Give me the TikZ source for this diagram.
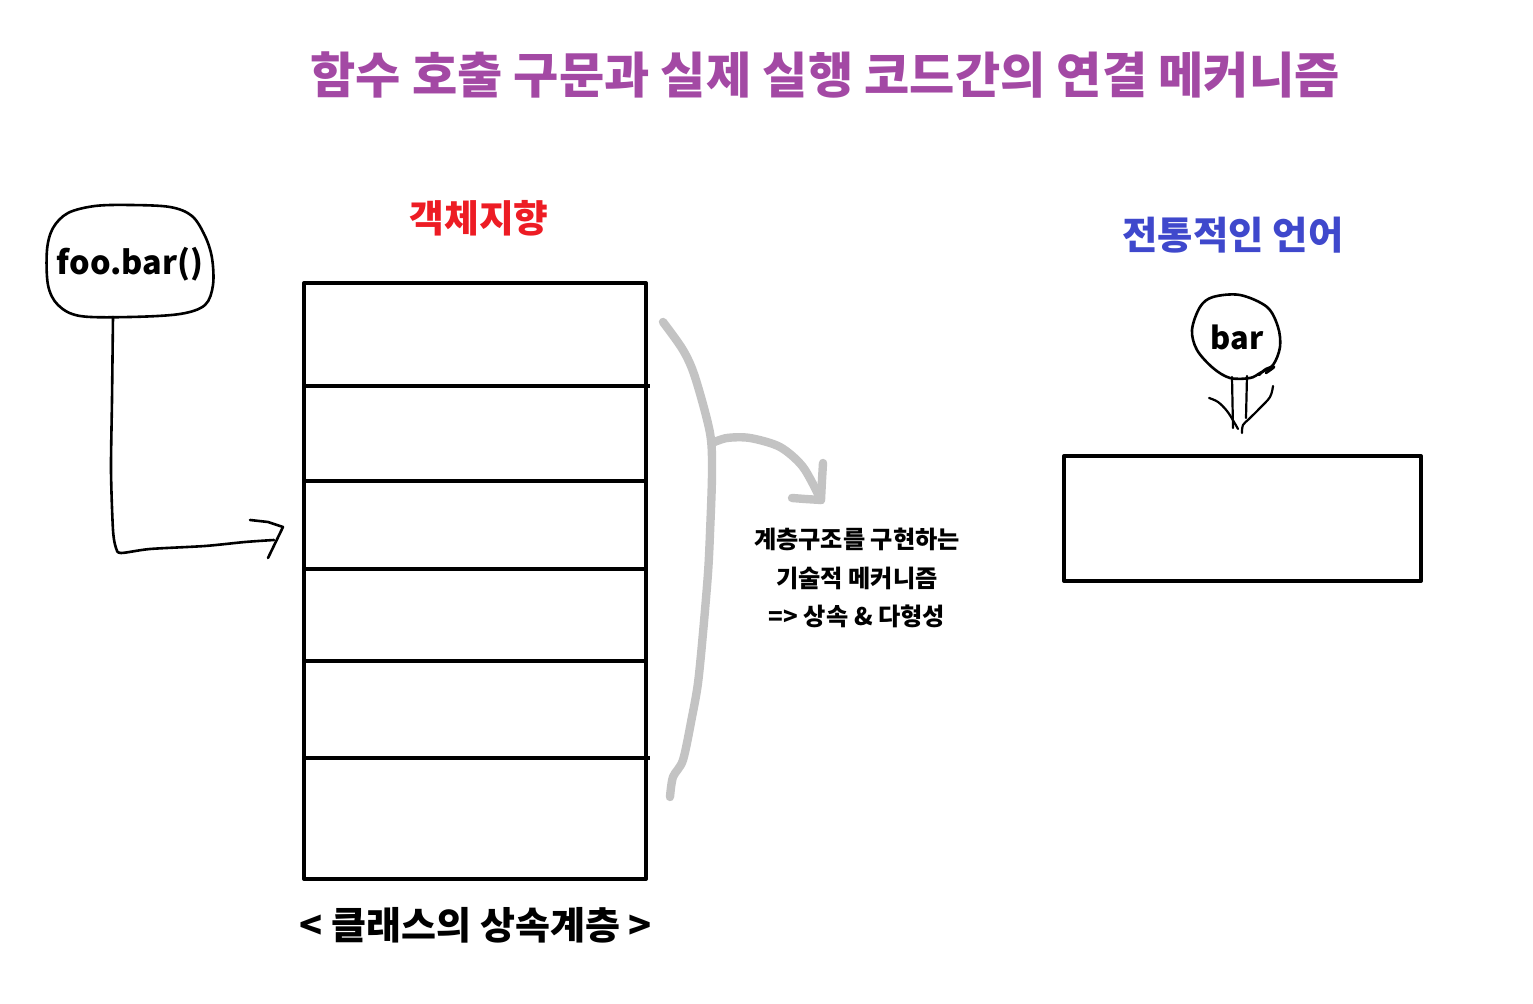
\documentclass[tikz,border=0pt]{standalone}
\usepackage{fontspec}
\setmainfont{Noto Sans CJK KR}
\definecolor{titlepurple}{RGB}{163,73,164}
\definecolor{oored}{RGB}{237,28,36}
\definecolor{tradblue}{RGB}{63,72,204}
\definecolor{arrowgray}{RGB}{195,195,195}
\begin{document}
\begin{tikzpicture}[x=0.5pt,y=-0.5pt,line join=round,line cap=round,
  hand/.style={draw=black,line width=1.3pt},
  boxline/.style={draw=black,line width=2pt,line cap=rect},
  graystroke/.style={draw=arrowgray,line width=4.2pt},
  lbl/.style={inner sep=0pt,font=\bfseries\fontsize{#1}{#1}\selectfont},
]
\useasboundingbox (0,0) rectangle (1533,1004);

% titles
\node[lbl=24.6,text=titlepurple] (title) at (825,75) {함수 호출 구문과 실제 실행 코드간의 연결 메커니즘};
\node[lbl=18.9,text=oored] (oo) at (479,218) {객체지향};
\node[lbl=19.2,text=tradblue] (trad) at (1233,235) {전통적인 언어};
\node[lbl=19] (hier) at (476,925) {< 클래스의 상속계층 >};
\node[inner sep=0pt,align=center,font=\bfseries\fontsize{12.1}{19.25}\selectfont] (mech) at (857,578)
  {계층구조를 구현하는\\기술적 메커니즘\\=> 상속 \& 다형성};

% class hierarchy stack
\draw[boxline] (304,283) rectangle (646,879);
\draw[boxline] (304,386) -- (648,386);
\draw[boxline] (304,481) -- (646,481);
\draw[boxline] (304,569) -- (646,569);
\draw[boxline] (304,661) -- (646,661);
\draw[boxline] (304,758) -- (648,758);
\coordinate (cell3) at (283,527);

% foo.bar() bubble
\draw[hand] plot[smooth cycle,tension=0.55] coordinates {(47,250) (53,228) (68,213) (95,206) (130,205) (170,207) (192,216) (205,236) (212,258) (213,285) (205,305) (180,314) (130,317) (80,316) (58,305) (48,285)};
\node[lbl=16.2] (foo) at (130,264) {foo.bar()};
\coordinate (foostem) at (113,317);

% connector foo -> stack
\draw[hand] plot[smooth,tension=0.45] coordinates {(foostem) (112,400) (111,470) (113,530) (116,548) (121,553) (150,549) (205,546) (245,542) (274,540)};
\draw[hand] (250,520) -- (268,522) -- (cell3) -- (268,558);

% gray brace with arrow
\draw[graystroke] plot[smooth,tension=0.5] coordinates {(663,322) (683,350) (695,377) (710,433) (712,473) (710,533) (708,573) (703,633) (698,683) (692,717) (683,760) (673,777) (670,797)};
\coordinate (branch) at (712,443);
\coordinate (ghead) at (821,500);
\draw[graystroke] plot[smooth,tension=0.5] coordinates {(branch) (727,438) (750,438) (780,447) (803,467) (ghead)};
\draw[graystroke] (823,463) -- (822,480) -- (ghead);
\draw[graystroke] (792,498) -- (805,499) -- (ghead);

% bar bubble
\draw[hand] plot[smooth cycle,tension=0.55] coordinates {(1213,297) (1240,295) (1267,307) (1278,327) (1280,347) (1273,365) (1260,373) (1250,378) (1230,378) (1213,368) (1197,350) (1192,330) (1200,307)};
\draw[hand] plot[smooth,tension=0.6] coordinates {(1259,375) (1266,369) (1274,367) (1266,373)};
\node[lbl=15.4] (bar) at (1237,337) {bar};
\coordinate (barL) at (1232,377);
\coordinate (barR) at (1247,376);

% right box
\draw[boxline] (1064,456) rectangle (1421,581);
\coordinate (rbox) at (1242,433);

% bar -> box arrow
\draw[hand,line width=1.1pt] (barL) -- (1233,428);
\draw[hand,line width=1.1pt] (barR) -- (1246,418);
\draw[hand,line width=1.1pt] plot[smooth,tension=0.6] coordinates {(1209,398) (1218,402) (1227,411) (1234,422) (1238,429)};
\draw[hand,line width=1.1pt] plot[smooth,tension=0.6] coordinates {(1273,386) (1270,397) (1260,408) (1249,419) (1243,425) (rbox)};
\end{tikzpicture}
\end{document}
